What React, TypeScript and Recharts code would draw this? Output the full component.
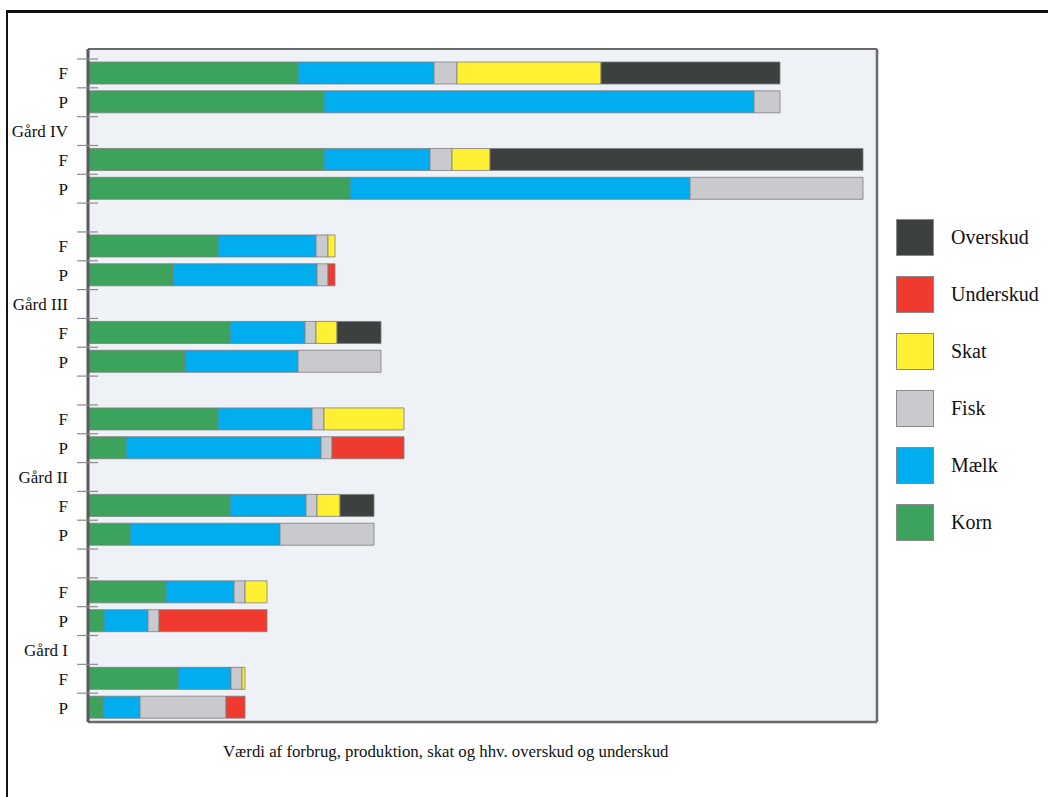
import { Bar, BarChart, CartesianGrid, XAxis, YAxis } from "recharts";

const CATEGORIES = [
  "F", "P", "Gård IV", "F", "P", "",
  "F", "P", "Gård III", "F", "P", "",
  "F", "P", "Gård II", "F", "P", "",
  "F", "P", "Gård I", "F", "P",
];

// values (arbitrary units, no scale printed)
const KORN = [210, 236, 0, 236, 262, 0, 130, 85, 0, 142, 97, 0, 130, 38, 0, 142, 42, 0, 78, 16, 0, 90, 15];
const MAELK = [136, 430, 0, 106, 340, 0, 98, 144, 0, 75, 113, 0, 94, 195, 0, 76, 150, 0, 68, 44, 0, 53, 37];
const FISK = [23, 26, 0, 22, 173, 0, 12, 11, 0, 11, 83, 0, 12, 11, 0, 11, 94, 0, 11, 11, 0, 11, 86];
const SKAT = [144, 0, 0, 38, 0, 0, 7, 0, 0, 21, 0, 0, 80, 0, 0, 23, 0, 0, 22, 0, 0, 3, 0];
const UNDERSKUD = [0, 0, 0, 0, 0, 0, 0, 7, 0, 0, 0, 0, 0, 72, 0, 0, 0, 0, 0, 108, 0, 0, 19];
const OVERSKUD = [179, 0, 0, 373, 0, 0, 0, 0, 0, 44, 0, 0, 0, 0, 0, 34, 0, 0, 0, 0, 0, 0, 0];

const X_MAX = 789;

const SERIES = [
  { key: "korn", label: "Korn", color: "#3ca35c" },
  { key: "maelk", label: "Mælk", color: "#00adef" },
  { key: "fisk", label: "Fisk", color: "#c8cacd" },
  { key: "skat", label: "Skat", color: "#fff033" },
  { key: "underskud", label: "Underskud", color: "#f03a30" },
  { key: "overskud", label: "Overskud", color: "#3c4140" },
];

const data = CATEGORIES.map((name, i) => ({
  name,
  korn: KORN[i],
  maelk: MAELK[i],
  fisk: FISK[i],
  skat: SKAT[i],
  underskud: UNDERSKUD[i],
  overskud: OVERSKUD[i],
}));

const W = 1048;
const H = 797;
// the frame axes take 1px each, hence the odd margins
const MARGIN = { top: 48, right: 170, bottom: 74, left: 0 };
const PAD_TOP = 10;
const BAND = (H - MARGIN.top - MARGIN.bottom - 2 - PAD_TOP) / CATEGORIES.length;
const FONT = '"Liberation Serif", "Times New Roman", serif';
const FRAME = "#6a6a6a";

function RowTick({ x, y, payload }: { x?: number; y?: number; payload?: { value: string } }) {
  if (x === undefined || y === undefined) return null;
  return (
    <g>
      <line x1={x + 9} x2={x + 30} y1={y - BAND / 2} y2={y - BAND / 2} stroke="#8c8c8c" strokeWidth={1.2} />
      <text x={x} y={y} dy="0.35em" textAnchor="end" fontSize={17} fontFamily={FONT} fill="#111">
        {payload?.value}
      </text>
    </g>
  );
}

export default function App() {
  return (
    <div style={{ position: "absolute", left: 0, top: 0, width: W, height: H, background: "#fff", fontFamily: FONT }}>
      <div
        style={{
          position: "absolute",
          left: 6,
          top: 10,
          width: W - 6,
          height: H - 10,
          borderTop: "3px solid #111",
          borderLeft: "2px solid #111",
          boxSizing: "border-box",
        }}
      />
      <BarChart
        width={W}
        height={H}
        data={data}
        layout="vertical"
        margin={MARGIN}
        barSize={22}
        style={{ position: "absolute", left: 0, top: 0 }}
      >
        <CartesianGrid horizontal={false} vertical={false} fill="#eef1f6" stroke="none" />
        <XAxis
          type="number"
          domain={[0, X_MAX]}
          orientation="bottom"
          height={1}
          tick={false}
          tickLine={false}
          axisLine={{ stroke: FRAME, strokeWidth: 2.5 }}
        />
        <XAxis
          xAxisId="top"
          type="number"
          domain={[0, X_MAX]}
          orientation="top"
          height={1}
          tick={false}
          tickLine={false}
          axisLine={{ stroke: FRAME, strokeWidth: 2 }}
        />
        <YAxis
          type="category"
          dataKey="name"
          width={88}
          padding={{ top: PAD_TOP, bottom: 0 }}
          interval={0}
          tickSize={0}
          tickMargin={20}
          tickLine={false}
          tick={<RowTick />}
          axisLine={{ stroke: "#5a5a5a", strokeWidth: 3 }}
        />
        <YAxis
          yAxisId="right"
          type="category"
          dataKey="name"
          orientation="right"
          width={1}
          tick={false}
          tickLine={false}
          axisLine={{ stroke: FRAME, strokeWidth: 2.5 }}
        />
        {SERIES.map((s) => (
          <Bar
            key={s.key}
            dataKey={s.key}
            name={s.label}
            stackId="a"
            fill={s.color}
            stroke="#7d7d7d"
            strokeWidth={0.8}
            isAnimationActive={false}
          />
        ))}
      </BarChart>

      <div style={{ position: "absolute", left: 896, top: 218 }}>
        {[...SERIES].reverse().map((s) => (
          <div key={s.key} style={{ display: "flex", alignItems: "center", height: 38, marginBottom: 19 }}>
            <span
              style={{
                display: "inline-block",
                width: 38,
                height: 37,
                background: s.color,
                border: "1px solid #8a8a8a",
                boxSizing: "border-box",
              }}
            />
            <span style={{ marginLeft: 17, fontSize: 20, color: "#111" }}>{s.label}</span>
          </div>
        ))}
      </div>

      <div style={{ position: "absolute", left: 223, top: 742, fontSize: 16.8, color: "#111", whiteSpace: "nowrap" }}>
        Værdi af forbrug, produktion, skat og hhv. overskud og underskud
      </div>
    </div>
  );
}
